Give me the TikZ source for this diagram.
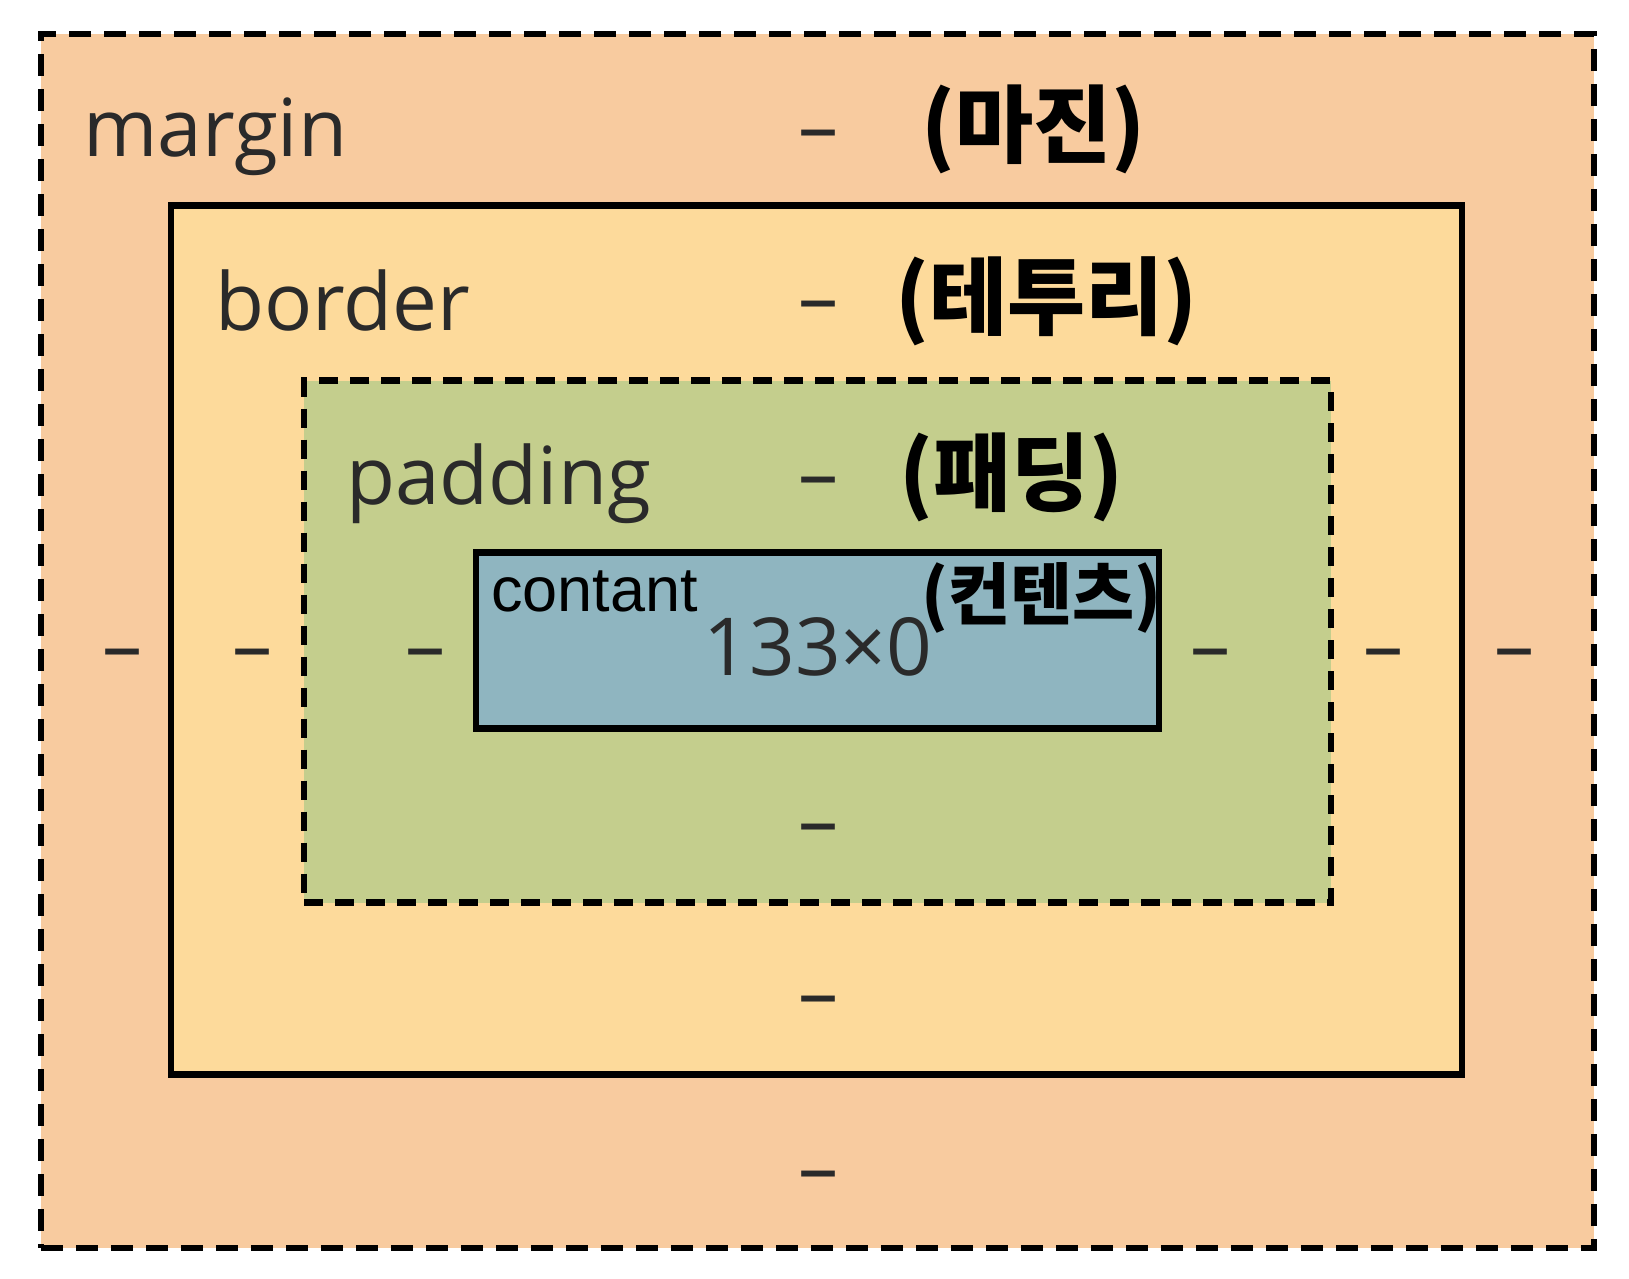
\documentclass[tikz,border=0pt]{standalone}
\usepackage{fontspec}
\setmainfont{Open Sans}
\newfontfamily\arialf{Liberation Sans}
\newfontfamily\krf{Noto Sans CJK KR}
\definecolor{marginc}{HTML}{F8CB9F}
\definecolor{borderc}{HTML}{FDDA9B}
\definecolor{paddingc}{HTML}{C4CE8D}
\definecolor{contentc}{HTML}{8FB5C0}
\definecolor{txtc}{HTML}{2A2A2A}
\tikzset{
  boxline/.style={draw=black, line width=6.5pt, inner sep=0pt, outer sep=0pt},
  dashbox/.style={boxline, dash pattern=on 22pt off 13pt},
  dashbox2/.style={boxline, dash pattern=on 19pt off 12pt},
  seg/.style={font=\fontsize{80}{96}\selectfont, text=txtc, inner sep=0pt, anchor=base west},
  krlab/.style={font=\krf\bfseries\fontsize{85}{100}\selectfont, text=black, inner sep=0pt, anchor=west},
  dsh/.style={font=\fontsize{80}{96}\selectfont, text=txtc, inner sep=0pt, text height=0pt, text depth=0pt, anchor=center},
}
\begin{document}
\begin{tikzpicture}[x=1pt,y=-1pt]
\useasboundingbox (0,0) rectangle (1629,1278);
\node[dashbox, fill=marginc, minimum width=1553pt, minimum height=1214pt] (mbox) at (817.5,641) {};
\node[boxline, fill=borderc, minimum width=1291pt, minimum height=869pt] (bbox) at (816.5,640) {};
\node[dashbox2, fill=paddingc, minimum width=1027pt, minimum height=522pt] (pbox) at (817.5,641.5) {};
\node[boxline, fill=contentc, minimum width=683pt, minimum height=176pt] (cbox) at (817.5,640.5) {};

\node[seg] (tmargin) at (83,156) {margin};
\node[seg] (tborder) at (215,330) {border};
\node[seg] (tpadding) at (346,504) {padding};
\node[font=\arialf\fontsize{63}{76}\selectfont, inner sep=0pt, anchor=base west] (tcontent) at (491,611) {contant};
\node[seg, anchor=base] (tsize) at (818,675) {133×0};

\node[krlab] (kmargin) at (921,129) {(마진)};
\node[krlab] (kborder) at (895,301) {(테투리)};
\node[krlab] (kpadding) at (899,477) {(패딩)};
\node[krlab, font=\krf\bfseries\fontsize{67.5}{80}\selectfont] (kcontent) at (921,598) {(컨텐츠)};

\foreach \nm/\xx/\yy in {mt/818/133, bt/818/304, pt/818/480, pb/818/827, bb/818/999, mb/818/1174,
  ml/122/652, bl/252/652, pl/425/652, pr/1210/652, br/1383/652, mr/1514/652}
  \node[dsh] (d\nm) at (\xx,\yy+21) {–};
\end{tikzpicture}
\end{document}
